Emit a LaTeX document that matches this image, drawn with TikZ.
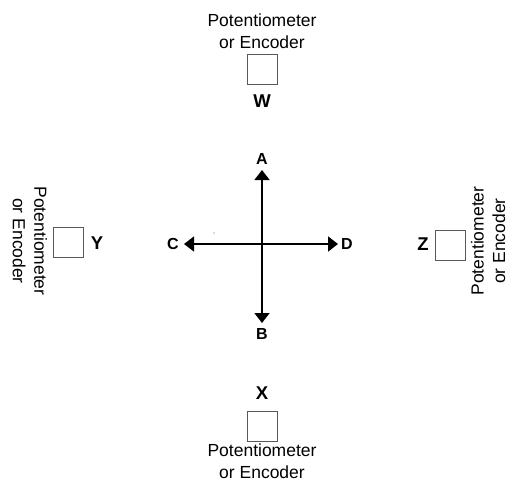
\documentclass[tikz,border=0pt]{standalone}
\usepackage{fontspec}
\setmainfont{Liberation Sans}
\usetikzlibrary{arrows.meta}
\begin{document}
\begin{tikzpicture}[x=1pt,y=-1pt,
  lbl/.style={align=center,inner sep=0pt,font=\fontsize{17.5}{21.5}\selectfont},
  axlbl/.style={inner sep=0pt,font=\bfseries\fontsize{16}{18}\selectfont},
  boxlbl/.style={inner sep=0pt,font=\bfseries\fontsize{18.5}{20}\selectfont},
  sensor/.style={draw=black!65,line width=0.9pt,minimum size=30pt,inner sep=0pt},
  axis/.style={line width=1.5pt,{Triangle[width=15pt,length=10pt]}-{Triangle[width=15pt,length=10pt]}}]
\useasboundingbox (0,0) rectangle (508,483);
\fill[white] (0,0) rectangle (508,483);
% center axes
\coordinate (O) at (262,244);
\node[axlbl] (A) at (262,159) {A};
\node[axlbl] (B) at (262,334) {B};
\node[axlbl] (C) at (173,244) {C};
\node[axlbl] (D) at (347,244) {D};
\coordinate (At) at (262,170);
\coordinate (Bt) at (262,323);
\coordinate (Ct) at (184,244);
\coordinate (Dt) at (338,244);
\draw[axis] (At) -- (Bt);
\draw[axis] (Ct) -- (Dt);
\fill[black!60] (214,233) circle (0.6pt);
% W (top)
\node[lbl] (Wt) at (262,31) {Potentiometer\\or Encoder};
\node[sensor] (Wb) at (262,69) {};
\node[boxlbl] (W) at (262,101) {W};
% X (bottom)
\node[boxlbl] (X) at (262,393) {X};
\node[sensor] (Xb) at (262,426) {};
\node[lbl] (Xt) at (262,461) {Potentiometer\\or Encoder};
% Y (left)
\node[lbl,rotate=-90] (Yt) at (30,241) {Potentiometer\\or Encoder};
\node[sensor] (Yb) at (68,242) {};
\node[boxlbl] (Y) at (97,243) {Y};
% Z (right)
\node[boxlbl] (Z) at (423,244) {Z};
\node[sensor] (Zb) at (450,245) {};
\node[lbl,rotate=90] (Zt) at (488,241) {Potentiometer\\or Encoder};
\end{tikzpicture}
\end{document}
